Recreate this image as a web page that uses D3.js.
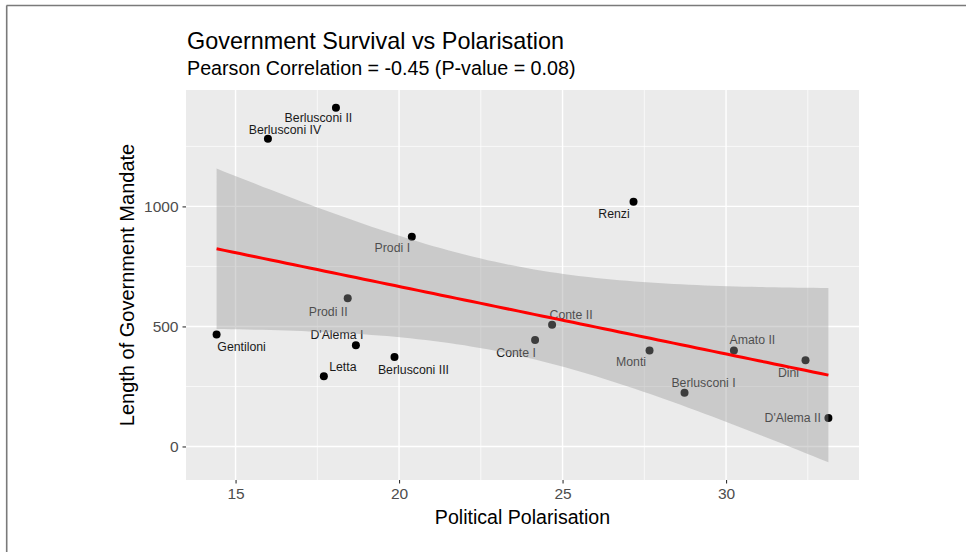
<!DOCTYPE html>
<html>
<head>
<meta charset="utf-8">
<script src="https://cdn.jsdelivr.net/npm/d3@7"></script>
<style>
  html, body { margin: 0; padding: 0; background: #fff; }
  svg { display: block; font-family: "Liberation Sans", Arial, Helvetica, sans-serif; }
</style>
</head>
<body>
<svg id="chart" width="966" height="552"></svg>
<script>
// ---------------- data ----------------
const governments = ["Gentiloni", "Berlusconi IV", "Berlusconi II", "Letta", "Prodi II", "D'Alema I",
  "Berlusconi III", "Prodi I", "Conte I", "Conte II", "Renzi", "Monti", "Berlusconi I", "Amato II",
  "Dini", "D'Alema II"];
const polarisation = [14.42, 15.99, 18.07, 17.70, 18.43, 18.68, 19.86, 20.39, 24.16, 24.68, 27.17,
  27.66, 28.73, 30.24, 32.43, 33.13];
const mandate = [466, 1282, 1411, 292, 617, 422, 373, 874, 444, 507, 1019, 400, 224, 400, 359, 119];
const xTickValues = [15, 20, 25, 30];
const xMinorValues = [17.5, 22.5, 27.5, 32.5];
const yTickValues = [0, 500, 1000];
const yMinorValues = [250, 750, 1250];
const titleText = "Government Survival vs Polarisation";
const subtitleText = "Pearson Correlation = -0.45 (P-value = 0.08)";
const xTitle = "Political Polarisation";
const yTitle = "Length of Government Mandate";

// ---------------- layout (label nudges in pixels, like ggrepel output) ----------------
const labelNudges = {
  "Gentiloni": [25, 12, "middle"], "Berlusconi IV": [17, -9.5, "middle"], "Berlusconi II": [-17.5, 9.5, "middle"],
  "Letta": [19, -10, "middle"], "Prodi II": [-19.5, 13, "middle"], "D'Alema I": [-19, -10, "middle"],
  "Berlusconi III": [19, 13, "middle"], "Prodi I": [-19.5, 11.5, "middle"], "Conte I": [-19, 12.5, "middle"],
  "Conte II": [19, -10, "middle"], "Renzi": [-19.5, 12, "middle"], "Monti": [-18.5, 11.5, "middle"],
  "Berlusconi I": [19, -10, "middle"], "Amato II": [18.5, -10.5, "middle"], "Dini": [-17, 12, "middle"],
  "D'Alema II": [-7.5, 0, "end"]
};
const panel = { left: 186, right: 859, top: 90, bottom: 480 };

// ---------------- linear model with 95% CI ----------------
const n = polarisation.length;
const xbar = d3.mean(polarisation), ybar = d3.mean(mandate);
let sxx = 0, sxy = 0;
for (let i = 0; i < n; i++) { sxx += (polarisation[i] - xbar) ** 2; sxy += (polarisation[i] - xbar) * (mandate[i] - ybar); }
const slope = sxy / sxx, intercept = ybar - slope * xbar;
let sse = 0;
for (let i = 0; i < n; i++) sse += (mandate[i] - (intercept + slope * polarisation[i])) ** 2;
const sres = Math.sqrt(sse / (n - 2));
const tcrit = 2.144787; // t(0.975, df = 14)
const [xlo, xhi] = d3.extent(polarisation);
const fitPts = d3.range(80).map(k => {
  const x = xlo + (xhi - xlo) * k / 79;
  const y = intercept + slope * x;
  const se = sres * Math.sqrt(1 / n + (x - xbar) ** 2 / sxx);
  return { x, y, lo: y - tcrit * se, hi: y + tcrit * se };
});

// ---------------- scales ----------------
const xr = xhi - xlo;
const x = d3.scaleLinear().domain([xlo - 0.05 * xr, xhi + 0.05 * xr]).range([panel.left, panel.right]);
const ymin = Math.min(d3.min(mandate), d3.min(fitPts, d => d.lo));
const ymax = Math.max(d3.max(mandate), d3.max(fitPts, d => d.hi));
const yr = ymax - ymin;
const y = d3.scaleLinear().domain([ymin - 0.05 * yr, ymax + 0.05 * yr]).range([panel.bottom, panel.top]);

const svg = d3.select("#chart");

// outer frame
svg.append("line").attr("x1", 6.5).attr("x2", 966).attr("y1", 5.5).attr("y2", 5.5).attr("stroke", "#7a7a7a").attr("stroke-width", 1.6);
svg.append("line").attr("x1", 6.7).attr("x2", 6.7).attr("y1", 5.5).attr("y2", 552).attr("stroke", "#7a7a7a").attr("stroke-width", 1.6);

// panel
svg.append("rect").attr("x", panel.left).attr("y", panel.top)
  .attr("width", panel.right - panel.left).attr("height", panel.bottom - panel.top).attr("fill", "#EBEBEB");

const grid = svg.append("g");
grid.selectAll(".ymin").data(yMinorValues).join("line")
  .attr("x1", panel.left).attr("x2", panel.right).attr("y1", d => y(d)).attr("y2", d => y(d))
  .attr("stroke", "#fff").attr("stroke-width", 0.7);
grid.selectAll(".xmin").data(xMinorValues).join("line")
  .attr("y1", panel.top).attr("y2", panel.bottom).attr("x1", d => x(d)).attr("x2", d => x(d))
  .attr("stroke", "#fff").attr("stroke-width", 0.7);
grid.selectAll(".ymaj").data(yTickValues).join("line")
  .attr("x1", panel.left).attr("x2", panel.right).attr("y1", d => y(d)).attr("y2", d => y(d))
  .attr("stroke", "#fff").attr("stroke-width", 1.4);
grid.selectAll(".xmaj").data(xTickValues).join("line")
  .attr("y1", panel.top).attr("y2", panel.bottom).attr("x1", d => x(d)).attr("x2", d => x(d))
  .attr("stroke", "#fff").attr("stroke-width", 1.4);

// points
const data = governments.map((g, i) => ({ name: g, x: polarisation[i], y: mandate[i] }));
svg.append("g").selectAll("circle").data(data).join("circle")
  .attr("cx", d => x(d.x)).attr("cy", d => y(d.y)).attr("r", 4).attr("fill", "#000");

// labels
svg.append("g").selectAll("text").data(data).join("text")
  .attr("x", d => x(d.x) + labelNudges[d.name][0])
  .attr("y", d => y(d.y) + labelNudges[d.name][1])
  .attr("dy", "0.35em")
  .attr("text-anchor", d => labelNudges[d.name][2])
  .attr("font-size", 12.3).attr("fill", "#1a1a1a")
  .text(d => d.name);

// CI ribbon
svg.append("path").datum(fitPts)
  .attr("d", d3.area().x(d => x(d.x)).y0(d => y(d.lo)).y1(d => y(d.hi)))
  .attr("fill", "#999999").attr("fill-opacity", 0.4);

// fit line
svg.append("path").datum(fitPts)
  .attr("d", d3.line().x(d => x(d.x)).y(d => y(d.y)))
  .attr("fill", "none").attr("stroke", "#FF0000").attr("stroke-width", 3);

// axes
const xAxis = d3.axisBottom(x).tickValues(xTickValues).tickSize(3.5).tickPadding(4).tickFormat(d3.format("d"));
const gx = svg.append("g").attr("transform", `translate(0,${panel.bottom})`).call(xAxis);
gx.select(".domain").remove();
gx.selectAll(".tick line").attr("stroke", "#333").attr("stroke-width", 1.1);
gx.selectAll(".tick text").attr("fill", "#4D4D4D").attr("font-size", 15.5).attr("font-family", "Liberation Sans, Arial, sans-serif");

const yAxis = d3.axisLeft(y).tickValues(yTickValues).tickSize(3.5).tickPadding(4).tickFormat(d3.format("d"));
const gy = svg.append("g").attr("transform", `translate(${panel.left},0)`).call(yAxis);
gy.select(".domain").remove();
gy.selectAll(".tick line").attr("stroke", "#333").attr("stroke-width", 1.1);
gy.selectAll(".tick text").attr("fill", "#4D4D4D").attr("font-size", 15.5).attr("font-family", "Liberation Sans, Arial, sans-serif");

// titles
svg.append("text").attr("x", panel.left + 1).attr("y", 48.5).attr("font-size", 23.4).attr("fill", "#000").text(titleText);
svg.append("text").attr("x", panel.left + 1).attr("y", 75).attr("font-size", 19.7).attr("fill", "#000").text(subtitleText);
svg.append("text").attr("x", (panel.left + panel.right) / 2).attr("y", 524).attr("text-anchor", "middle")
  .attr("font-size", 19.6).attr("fill", "#000").text(xTitle);
svg.append("text").attr("transform", `translate(134,${(panel.top + panel.bottom) / 2}) rotate(-90)`)
  .attr("text-anchor", "middle").attr("font-size", 20).attr("fill", "#000").text(yTitle);
</script>
</body>
</html>
